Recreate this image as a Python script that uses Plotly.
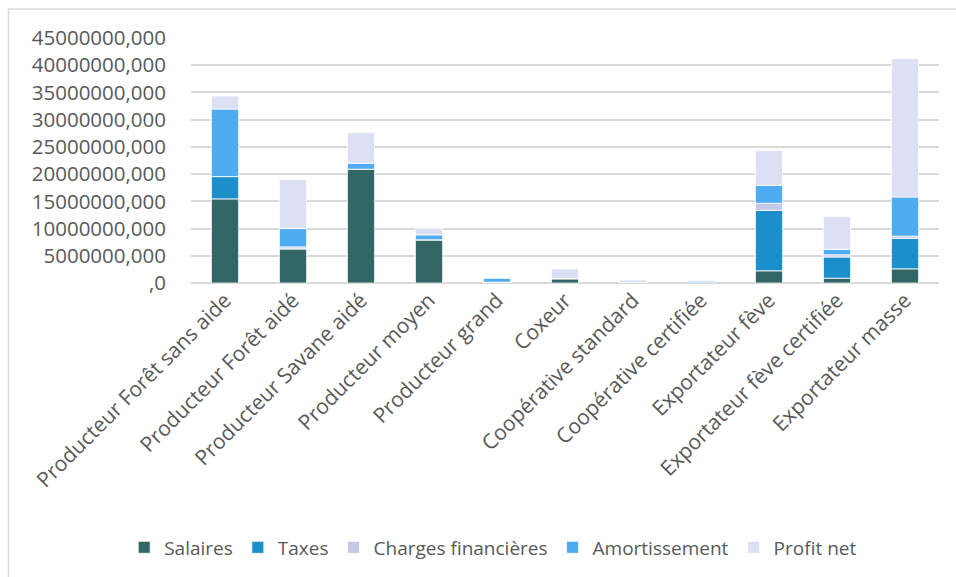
import plotly.graph_objects as go

categories = [
    "Producteur Forêt sans aide", "Producteur Forêt aidé", "Producteur Savane aidé",
    "Producteur moyen", "Producteur grand", "Coxeur", "Coopérative standard",
    "Coopérative certifiée", "Exportateur fève", "Exportateur fève certifiée",
    "Exportateur masse",
]

salaires = [15450000, 6280000, 20900000, 7940000, 150000, 800000, 50000, 50000, 2240000, 880000, 2600000]
taxes = [4100000, 0, 0, 0, 0, 0, 0, 0, 11100000, 3900000, 5600000]
charges_financieres = [0, 350000, 0, 0, 0, 0, 0, 0, 1300000, 400000, 400000]
amortissement = [12400000, 3370000, 1100000, 900000, 700000, 0, 0, 300000, 3300000, 1000000, 7200000]
profit_net = [2400000, 9000000, 5600000, 1200000, -300000, 1800000, 500000, 150000, 6400000, 6060000, 25400000]

series_names = ["Salaires", "Taxes", "Charges financières", "Amortissement", "Profit net"]
series_values = [salaires, taxes, charges_financieres, amortissement, profit_net]
series_colors = ["#336766", "#1a8fcb", "#c5c8e6", "#4fabf2", "#dbe0f4"]

tick_vals = [0, 5000000, 10000000, 15000000, 20000000, 25000000, 30000000, 35000000, 40000000, 45000000]
tick_text = [",0", "5000000,000", "10000000,000", "15000000,000", "20000000,000",
             "25000000,000", "30000000,000", "35000000,000", "40000000,000", "45000000,000"]

fig = go.Figure()
for name, vals, col in zip(series_names, series_values, series_colors):
    fig.add_trace(go.Bar(
        name=name, x=categories, y=vals,
        marker=dict(color=col, line=dict(color="white", width=0.8)),
        width=0.4,
    ))

grid = "#d9d9d9"
fig.update_layout(
    barmode="relative",
    width=956, height=577,
    margin=dict(l=191, r=17, t=38, b=293),
    paper_bgcolor="white", plot_bgcolor="white",
    font=dict(family="Open Sans", color="#595959"),
    showlegend=True,
    legend=dict(
        orientation="h", x=0.404, xanchor="center", y=-1.071, yanchor="middle",
        font=dict(size=19, color="#595959"), traceorder="normal",
    ),
    xaxis=dict(
        tickangle=-45, tickfont=dict(size=21, color="#595959"),
        showgrid=False, showline=False, ticks="",
    ),
    yaxis=dict(
        range=[0, 45000000], tickvals=tick_vals, ticktext=tick_text,
        tickfont=dict(size=20.5, color="#595959"),
        showgrid=True, gridcolor=grid, gridwidth=1.5,
        zeroline=True, zerolinecolor=grid, zerolinewidth=1.5,
        showline=False, ticks="", ticklabelstandoff=24,
    ),
    shapes=[dict(
        type="rect", xref="paper", yref="paper",
        x0=-0.244, x1=1.1, y0=-1.3, y1=1.118,
        line=dict(color="#d9d9d9", width=1.5), fillcolor="rgba(0,0,0,0)",
        layer="below",
    )],
)

fig.write_html("out.html")
